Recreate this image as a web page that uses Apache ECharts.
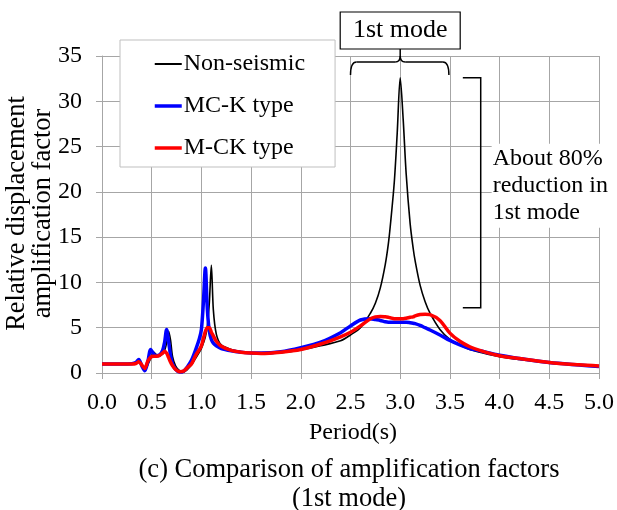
<!DOCTYPE html>
<html><head><meta charset="utf-8">
<script src="https://cdn.jsdelivr.net/npm/echarts@6/dist/echarts.min.js"></script>
<style>html,body{margin:0;padding:0;background:#fff}#c{width:617px;height:510px}</style>
</head><body><div id="c"></div>
<script>
// Period (s)
const periods = [0, 0.1, 0.2, 0.3, 0.34, 0.37, 0.40, 0.43, 0.46, 0.49,
  0.52, 0.55, 0.58, 0.61, 0.63, 0.65, 0.67, 0.69, 0.71, 0.74,
  0.78, 0.82, 0.86, 0.9, 0.94, 0.98, 1.0, 1.02, 1.04, 1.06,
  1.08, 1.1, 1.12, 1.15, 1.2, 1.3, 1.4, 1.5, 1.6, 1.8,
  2.0, 2.2, 2.4, 2.5, 2.6, 2.7, 2.75, 2.8, 2.85, 2.88,
  2.9, 2.94, 2.97, 3.0, 3.03, 3.06, 3.1, 3.13, 3.15, 3.2,
  3.25, 3.3, 3.4, 3.5, 3.6, 3.7, 3.8, 4.0, 4.2, 4.5,
  4.8, 5.0];
// Non-seismic
const nonSeismic = [1.0, 1.0, 1.0, 1.02, 1.08, 1.3, 0.9, 0.35, 0.9, 1.6,
  2.3, 2.0, 1.9, 2.1, 2.5, 3.3, 4.6, 3.6, 1.8, 0.8,
  0.25, 0.1, 0.4, 0.9, 1.6, 2.3, 2.7, 3.3, 4.0, 5.2,
  7.8, 11.9, 7.0, 4.3, 3.1, 2.6, 2.35, 2.2, 2.15, 2.25,
  2.55, 3.0, 3.55, 4.2, 5.0, 6.6, 7.7, 9.4, 12.0, 14.2,
  16.2, 21.0, 26.5, 32.6, 28.0, 22.0, 16.5, 13.8, 12.4, 9.7,
  7.9, 6.6, 4.8, 3.7, 3.1, 2.6, 2.3, 1.8, 1.5, 1.15,
  0.9, 0.75];
// MC-K type
const mcK = [1.0, 1.0, 1.0, 1.03, 1.15, 1.5, 0.8, 0.25, 1.2, 2.6,
  2.1, 1.9, 2.0, 2.5, 3.4, 4.8, 3.5, 1.9, 1.0, 0.4,
  0.1, 0.2, 0.7, 1.4, 2.5, 3.8, 4.8, 7.8, 11.6, 7.0,
  4.6, 3.7, 3.3, 3.0, 2.7, 2.45, 2.3, 2.2, 2.2, 2.35,
  2.8, 3.4, 4.45, 5.2, 5.85, 6.0, 5.9, 5.8, 5.65, 5.6,
  5.6, 5.6, 5.6, 5.6, 5.6, 5.6, 5.55, 5.5, 5.45, 5.25,
  5.0, 4.75, 4.2, 3.6, 3.1, 2.7, 2.45, 1.95, 1.6, 1.15,
  0.88, 0.72];
// M-CK type
const mCK = [1.0, 1.0, 1.0, 1.0, 1.05, 1.25, 0.9, 0.5, 1.3, 1.75,
  1.85, 1.85, 1.95, 2.2, 2.4, 2.2, 1.7, 1.2, 0.8, 0.4,
  0.15, 0.2, 0.6, 1.0, 1.9, 2.6, 3.0, 3.8, 4.6, 5.0,
  5.0, 4.5, 4.1, 3.5, 2.95, 2.5, 2.3, 2.2, 2.15, 2.3,
  2.6, 3.2, 4.0, 4.5, 5.2, 6.0, 6.2, 6.25, 6.2, 6.15,
  6.1, 6.0, 6.0, 6.0, 6.0, 6.05, 6.15, 6.2, 6.3, 6.45,
  6.5, 6.45, 5.8, 4.4, 3.5, 2.9, 2.5, 1.9, 1.6, 1.15,
  0.9, 0.78];

const seriesNames = ['Non-seismic', 'MC-K type', 'M-CK type'];
const FONT = '"Liberation Serif", "Times New Roman", serif';
const GRID = '#a6a6a6';

const chart = echarts.init(document.getElementById('c'), null, {renderer: 'canvas'});
const toPairs = ys => periods.map((p, i) => [p, ys[i]]);

chart.setOption({
  animation: false,
  backgroundColor: '#fff',
  grid: {left: 102, right: 14, top: 56, bottom: 137},
  xAxis: {
    type: 'value', min: 0, max: 5, interval: 0.5,
    axisLine: {show: true, lineStyle: {color: GRID, width: 1}},
    axisTick: {show: true, length: 6, lineStyle: {color: GRID}},
    splitLine: {show: true, lineStyle: {color: GRID, width: 1}},
    axisLabel: {formatter: v => v.toFixed(1), fontFamily: FONT, fontSize: 24, color: '#000', margin: 18}
  },
  yAxis: {
    type: 'value', min: 0, max: 35, interval: 5,
    axisLine: {show: true, lineStyle: {color: GRID, width: 1}},
    axisTick: {show: true, length: 6, lineStyle: {color: GRID}},
    splitLine: {show: true, lineStyle: {color: GRID, width: 1}},
    axisLabel: {fontFamily: FONT, fontSize: 24, color: '#000', margin: 20}
  },
  legend: {
    data: [
      {name: seriesNames[0], lineStyle: {width: 2}},
      {name: seriesNames[1], lineStyle: {width: 3.5}},
      {name: seriesNames[2], lineStyle: {width: 3.5}}
    ],
    orient: 'vertical', left: 120, top: 40,
    padding: [12, 30, 7, 33],
    itemWidth: 27, itemHeight: 24, itemGap: 18,
    itemStyle: {opacity: 0},
    backgroundColor: '#fff', borderColor: '#bfbfbf', borderWidth: 1,
    textStyle: {fontFamily: FONT, fontSize: 24, color: '#000', padding: [0, 0, 0, -3]}
  },
  series: [
    {name: seriesNames[0], type: 'line', data: toPairs(nonSeismic), symbol: 'none', smooth: 0.3, lineStyle: {color: '#000', width: 1.6}, itemStyle: {color: '#000'}, z: 3},
    {name: seriesNames[1], type: 'line', data: toPairs(mcK), symbol: 'none', smooth: 0.3, lineStyle: {color: '#0000ff', width: 3.5}, itemStyle: {color: '#0000ff'}, z: 4},
    {name: seriesNames[2], type: 'line', data: toPairs(mCK), symbol: 'none', smooth: 0.3, lineStyle: {color: '#ff0000', width: 3.5}, itemStyle: {color: '#ff0000'}, z: 5}
  ]
});

const P = (x, y) => chart.convertToPixel({gridIndex: 0}, [x, y]);
const [bl, yTop] = P(2.5, 34.35);
const [br, yEnd] = P(3.49, 32.9);
const [bc] = P(3.0, 0);
const boxB = 49, boxT = 12;
const [kL, kT] = P(3.63, 32.6);
const [kR, kB] = P(3.81, 7.2);
const [tx, ty] = P(3.92, 25.3);
const ink = {stroke: '#000', lineWidth: 1.5, fill: null};
const seg = (x1, y1, x2, y2) => ({type: 'line', shape: {x1, y1, x2, y2}, style: ink, z: 100});
const qc = (x1, y1, cx, cy, x2, y2) => ({type: 'bezierCurve', shape: {x1, y1, cpx1: cx, cpy1: cy, x2, y2}, style: ink, z: 100});

chart.setOption({
  graphic: [
    {type: 'rect', shape: {x: bc - 60, y: boxT, width: 120, height: boxB - boxT}, style: {fill: '#fff', stroke: '#000', lineWidth: 1.2}, z: 100},
    {type: 'text', x: bc, y: (boxT + boxB) / 2, style: {text: '1st mode', font: '26px ' + FONT, fill: '#000', textAlign: 'center', textVerticalAlign: 'middle'}, z: 101},
    qc(bl, yEnd, bl, yTop, bl + 6, yTop),
    seg(bl + 6, yTop, bc - 5, yTop),
    qc(bc - 5, yTop, bc, yTop, bc, yTop - 6),
    seg(bc, yTop - 6, bc, boxB),
    qc(bc, yTop - 6, bc, yTop, bc + 5, yTop),
    seg(bc + 5, yTop, br - 6, yTop),
    qc(br - 6, yTop, br, yTop, br, yEnd),
    {type: 'polyline', shape: {points: [[kL, kT], [kR, kT], [kR, kB], [kL, kB]]}, style: ink, z: 100},
    {type: 'text', x: tx, y: ty, style: {text: 'About 80%\nreduction in\n1st mode', font: '24px ' + FONT, fill: '#000', lineHeight: 27, backgroundColor: '#fff', padding: [1, 3, 2, 1], textAlign: 'left', textVerticalAlign: 'top'}, z: 100},
    {type: 'text', x: 30.5, y: 213.5, rotation: Math.PI / 2, style: {text: 'Relative displacement\namplification factor', font: '26.5px ' + FONT, fill: '#000', lineHeight: 26, textAlign: 'center', textVerticalAlign: 'middle'}, z: 100},
    {type: 'text', x: 353, y: 433, style: {text: 'Period(s)', font: '24px ' + FONT, fill: '#000', textAlign: 'center', textVerticalAlign: 'middle'}, z: 100},
    {type: 'text', x: 349, y: 470, style: {text: '(c) Comparison of amplification factors', font: '26.5px ' + FONT, fill: '#000', textAlign: 'center', textVerticalAlign: 'middle'}, z: 100},
    {type: 'text', x: 349, y: 499, style: {text: '(1st mode)', font: '26.5px ' + FONT, fill: '#000', textAlign: 'center', textVerticalAlign: 'middle'}, z: 100}
  ]
});
</script>
</body></html>
